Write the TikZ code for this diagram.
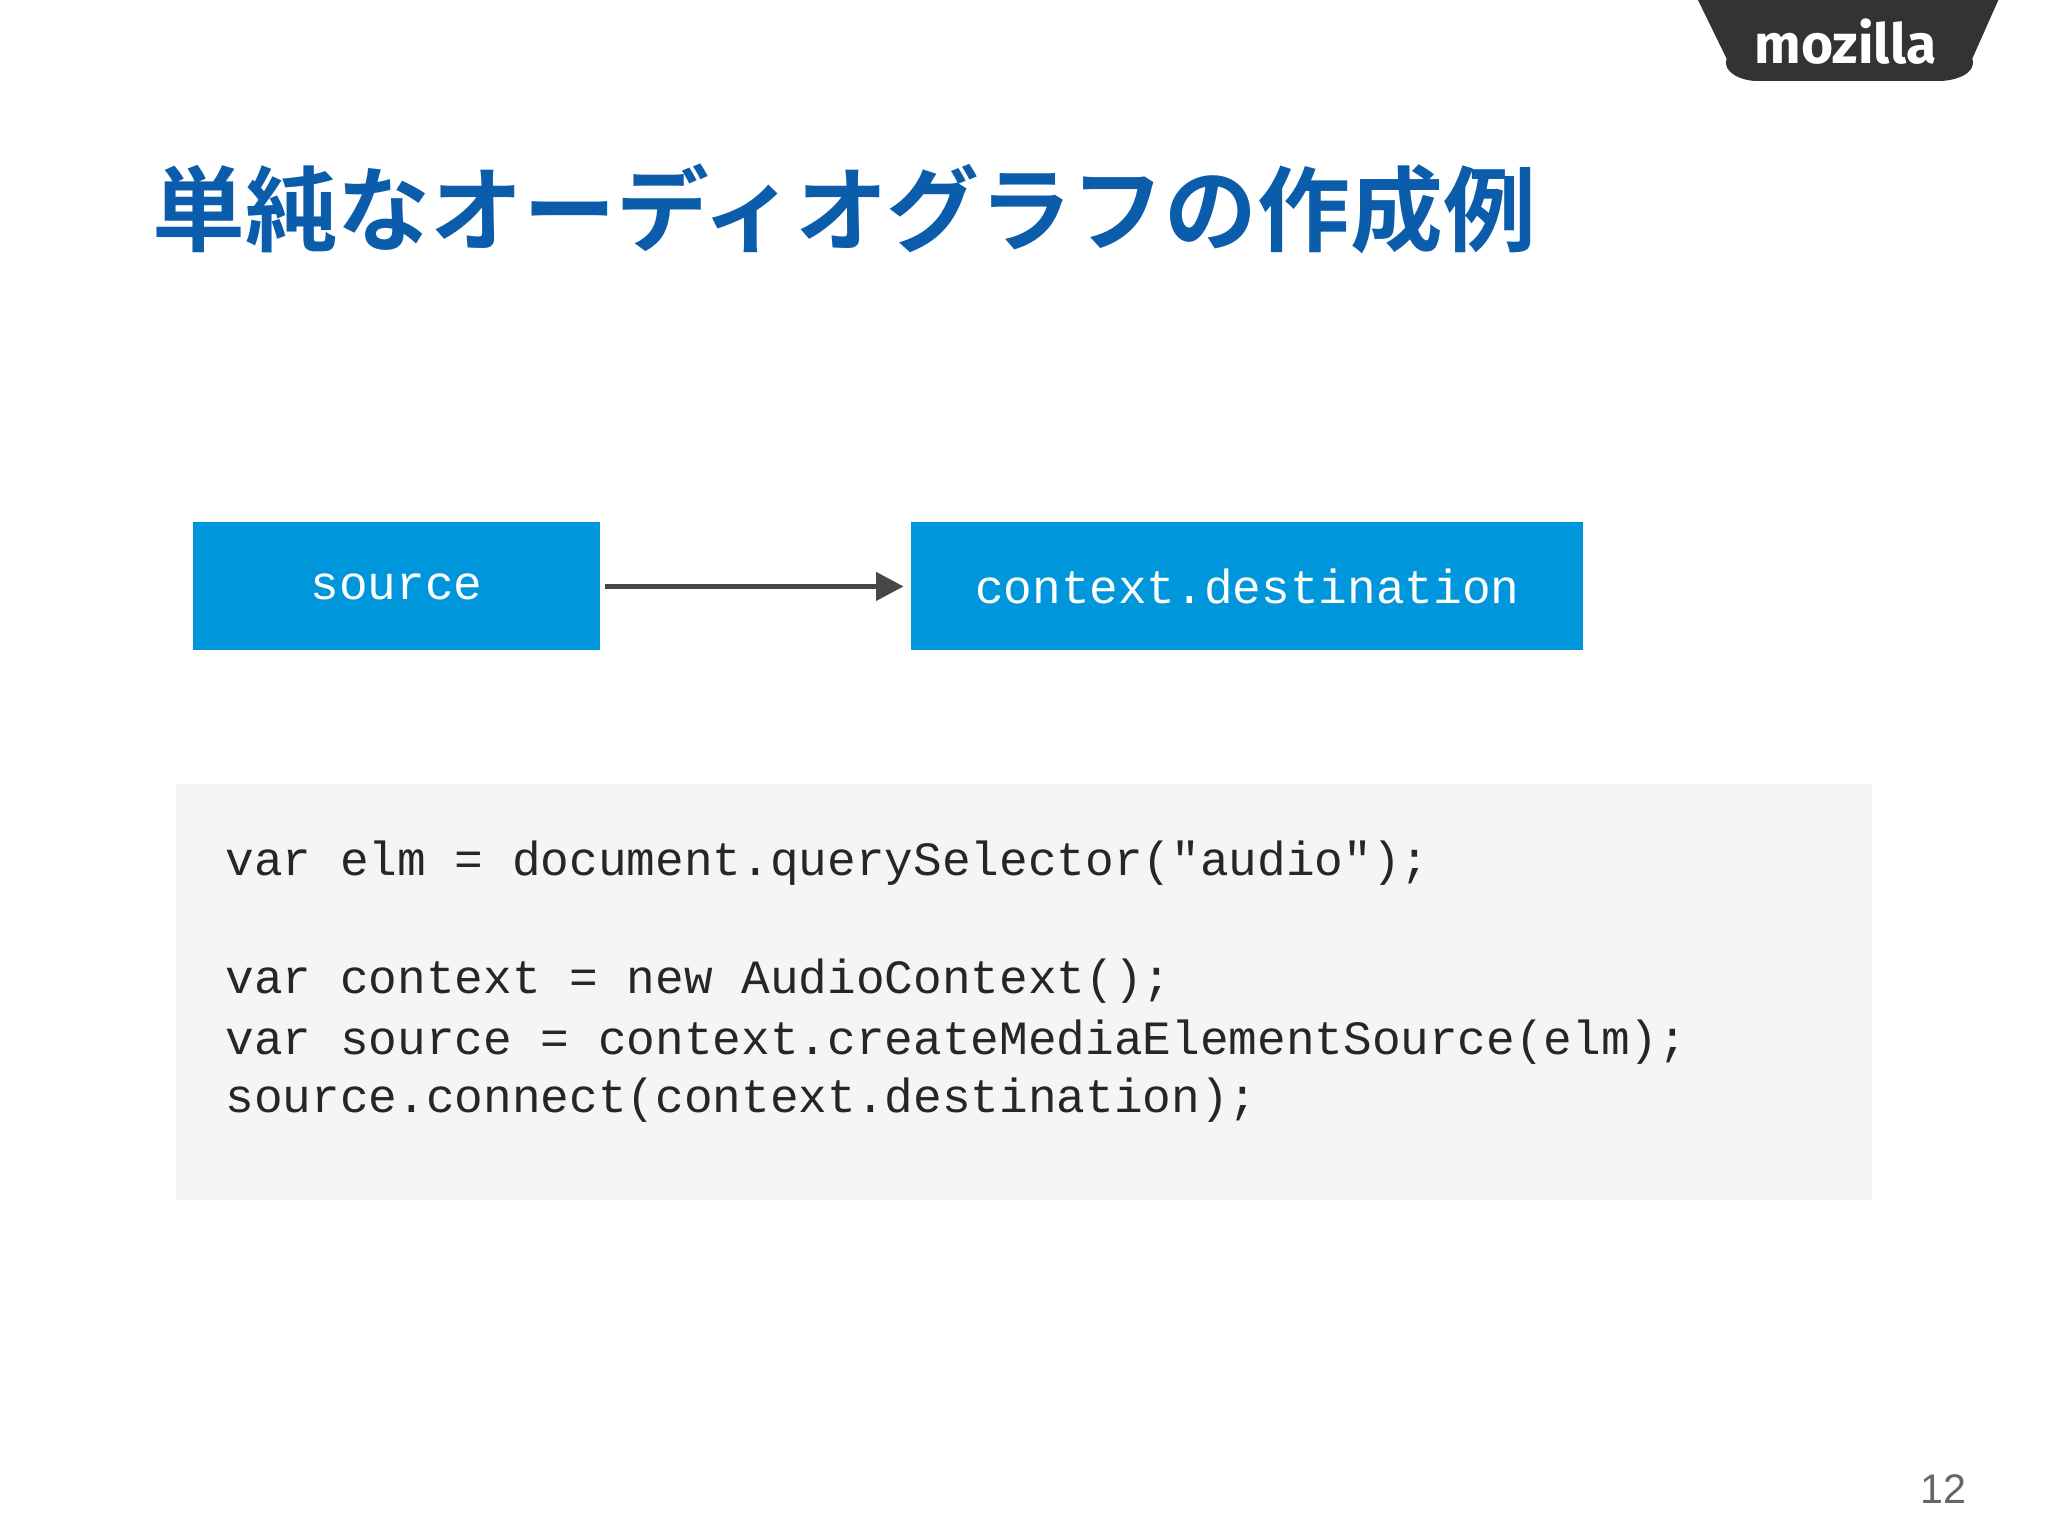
\documentclass[tikz,border=0pt]{standalone}
\usepackage{fontspec}
\setmainfont{Liberation Sans}
\setmonofont{Liberation Mono}
\newfontfamily\cjk{Noto Sans CJK JP}[BoldFont={* Bold}]
\newfontfamily\moz{Fira Sans}
\definecolor{nodeblue}{HTML}{0096DB}
\definecolor{titleblue}{HTML}{0B5CAB}
\definecolor{codebg}{HTML}{F5F4F7}
\definecolor{tabgray}{HTML}{333333}
\usetikzlibrary{arrows.meta}
\tikzset{
  box/.style={fill=nodeblue,inner sep=0pt,text=white,font=\ttfamily\fontsize{10.4pt}{12pt}\selectfont},
  code/.style={anchor=base west,inner sep=0pt,text=black!85,font=\ttfamily\fontsize{10.4pt}{12pt}\selectfont},
  conn/.style={draw=black!72,line width=1.2pt,-{Triangle[length=6pt,width=6pt]}}
}
\begin{document}
\begin{tikzpicture}[x=0.01cm,y=-0.01cm]
\useasboundingbox[fill=white] (0,0) rectangle (1568,1176);
% mozilla tab
\fill[tabgray] (1300,0) -- (1530,0) -- (1510,45) to[out=-70,in=0] (1485,62) -- (1345,62) to[out=180,in=-110] (1322,45) -- cycle;
\node[text=white,font=\moz\bfseries\fontsize{12pt}{14pt}\selectfont] (moz) at (1413,32) {mozilla};
% title
\node[anchor=west,inner sep=0pt,text=titleblue,font=\cjk\bfseries\fontsize{20.2pt}{24pt}\selectfont] (title) at (116,160) {単純なオーディオグラフの作成例};
% nodes
\node[box,minimum width=3.11cm,minimum height=0.98cm] (src) at (303.5,449) {\raisebox{-1pt}{source}};
\node[box,minimum width=5.14cm,minimum height=0.98cm] (dst) at (955,449) {\raisebox{-1pt}{context.destination}};
\draw[conn] ([xshift=1pt]src.east) -- ([xshift=-1.5pt]dst.west);
% code
\fill[codebg] (135,600) rectangle (1433,919);
\node[code] (l1) at (172,670) {var elm = document.querySelector("audio");};
\node[code] (l2) at (172,761) {var context = new AudioContext();};
\node[code] (l3) at (172,807) {var source = context.createMediaElementSource(elm);};
\node[code] (l4) at (172,852) {source.connect(context.destination);};
% page number
\node[text=black!60,font=\fontsize{9pt}{10pt}\selectfont] (pg) at (1488,1140) {12};
\end{tikzpicture}
\end{document}
